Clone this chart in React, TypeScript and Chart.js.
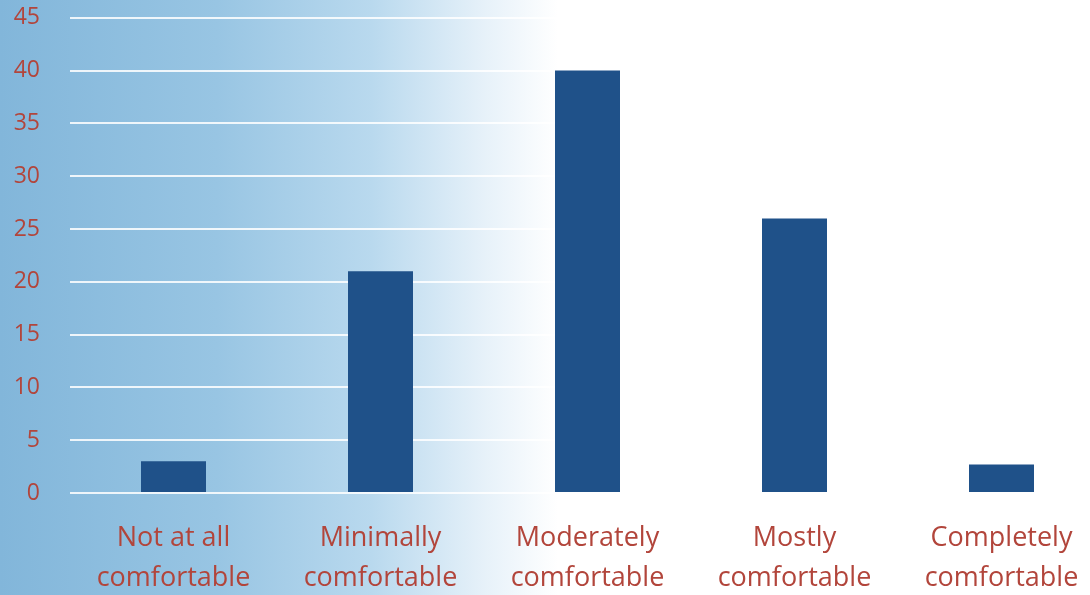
import React, { useEffect, useRef } from "react";
import { Chart, registerables } from "chart.js";

Chart.register(...registerables);

const categories: string[][] = [
  ["Not at all", "comfortable"],
  ["Minimally", "comfortable"],
  ["Moderately", "comfortable"],
  ["Mostly", "comfortable"],
  ["Completely", "comfortable"],
];
const values: number[] = [3, 21, 40, 26, 2.7];
const yTicks: number[] = [0, 5, 10, 15, 20, 25, 30, 35, 40, 45];

const TEXT = "#b2453b";
const BAR = "#1f5189";

const SHIFT = 26;

const bgPlugin = {
  id: "bgGradient",
  beforeDraw(chart: any) {
    const { ctx, width, height } = chart;
    ctx.save();
    const g = ctx.createLinearGradient(0, 0, 620, 0);
    g.addColorStop(0, "#82b6da");
    g.addColorStop(0.35, "#98c5e3");
    g.addColorStop(0.6, "#b9d9ee");
    g.addColorStop(0.78, "#e6f1f9");
    g.addColorStop(0.9, "#ffffff");
    g.addColorStop(1, "#ffffff");
    ctx.fillStyle = g;
    ctx.fillRect(0, 0, width, height);
    ctx.restore();
  },
};

export default function App() {
  const ref = useRef<HTMLCanvasElement | null>(null);
  useEffect(() => {
    if (!ref.current) return;
    const chart = new Chart(ref.current, {
      type: "bar",
      data: {
        labels: categories,
        datasets: [
          {
            data: values,
            backgroundColor: BAR,
            barPercentage: 0.314,
            categoryPercentage: 1,
          },
        ],
      },
      plugins: [bgPlugin],
      options: {
        responsive: false,
        animation: false,
        layout: { padding: 0 },
        plugins: { legend: { display: false }, tooltip: { enabled: false } },
        scales: {
          x: {
            grid: { display: false },
            border: { display: false },
            ticks: {
              color: TEXT,
              font: { family: "Open Sans", size: 27, lineHeight: 1.5 },
              padding: 17,
              maxRotation: 0,
              autoSkip: false,
            },
            afterFit(scale: any) {
              scale.height = 102;
            },
          },
          y: {
            min: 0,
            max: 45,
            afterBuildTicks(scale: any) {
              scale.ticks = yTicks.map((v) => ({ value: v }));
            },
            grid: { color: "rgba(255,255,255,0.85)", lineWidth: 2, drawTicks: false },
            border: { display: false },
            ticks: {
              color: TEXT,
              font: { family: "Open Sans", size: 23 },
              padding: 30,
            },
            afterFit(scale: any) {
              scale.width = 70;
            },
          },
        },
      },
    });
    return () => chart.destroy();
  }, []);
  return (
    <div
      style={{
        position: "fixed",
        left: 0,
        top: 0,
        width: 1090,
        height: 595,
        overflow: "hidden",
        background: "#fff",
      }}
    >
      <canvas
        ref={ref}
        width={1105}
        height={595 + SHIFT}
        style={{ display: "block", marginTop: -SHIFT }}
      />
    </div>
  );
}
